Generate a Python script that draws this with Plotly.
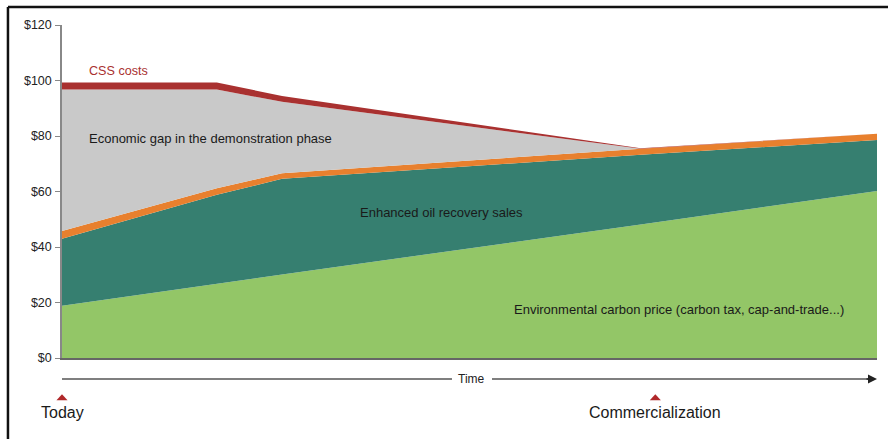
import plotly.graph_objects as go

# Time axis (0 = today, 100 = far future)
time_pts = [0, 19, 27, 71, 100]
# cumulative levels ($)
carbon_price = [18.8, 26.8, 30.1, 48.1, 60.2]
eor_top = [43.0, 58.8, 64.6, 73.2, 78.6]
eor_band_top = [45.8, 61.2, 66.6, 75.4, 80.8]
css_bottom = [96.8, 96.8, 92.3, 75.4, 80.8]
css_top = [99.3, 99.3, 94.4, 75.6, 80.8]

y_ticks = [0, 20, 40, 60, 80, 100, 120]
y_tick_labels = ["$0", "$20", "$40", "$60", "$80", "$100", "$120"]

milestones_t = [0, 72.8]
milestone_labels = ["Today", "Commercialization"]

GREEN = "#93C667"
TEAL = "#367F70"
ORANGE = "#E8802E"
GRAY = "#C9C9C9"
RED = "#A93130"
FONT = "Liberation Sans, Arial, sans-serif"

fig = go.Figure()
fig.add_trace(go.Scatter(x=time_pts, y=carbon_price, mode="lines", line=dict(width=0),
                         fill="tozeroy", fillcolor=GREEN, hoverinfo="skip"))
fig.add_trace(go.Scatter(x=time_pts, y=eor_top, mode="lines", line=dict(width=0),
                         fill="tonexty", fillcolor=TEAL, hoverinfo="skip"))
fig.add_trace(go.Scatter(x=time_pts, y=eor_band_top, mode="lines", line=dict(width=0),
                         fill="tonexty", fillcolor=ORANGE, hoverinfo="skip"))
fig.add_trace(go.Scatter(x=time_pts, y=css_bottom, mode="lines", line=dict(width=0),
                         fill="tonexty", fillcolor=GRAY, hoverinfo="skip"))
fig.add_trace(go.Scatter(x=time_pts, y=css_top, mode="lines", line=dict(width=0),
                         fill="tonexty", fillcolor=RED, hoverinfo="skip"))

line_y = -0.063
shapes = [
    dict(type="line", xref="paper", yref="paper", x0=-0.0663, x1=1.02, y0=1.054, y1=1.054,
         line=dict(color="#111", width=2.5)),
    dict(type="line", xref="paper", yref="paper", x0=-0.0663, x1=-0.0663, y0=1.054, y1=-0.26,
         line=dict(color="#111", width=2.5)),
    dict(type="line", xref="paper", yref="paper", x0=0, x1=0.4785, y0=line_y, y1=line_y,
         line=dict(color="#555", width=1.5)),
    dict(type="line", xref="paper", yref="paper", x0=0.5276, x1=0.995, y0=line_y, y1=line_y,
         line=dict(color="#555", width=1.5)),
]
# milestone triangles (x converted from time units to paper units)
for t in milestones_t:
    px = t / 100.0
    shapes.append(dict(type="path", xref="paper", yref="paper",
                       path=f"M {px - 0.0068} -0.127 L {px + 0.0068} -0.127 L {px} -0.109 Z",
                       fillcolor="#B0282A", line=dict(width=0)))

annotations = [
    dict(x=1.0, y=line_y, xref="paper", yref="paper", ax=-12, ay=0, text="", showarrow=True,
         arrowhead=2, arrowsize=1.2, arrowwidth=1.5, arrowcolor="#222"),
    dict(x=0.503, y=line_y, xref="paper", yref="paper", text="Time", showarrow=False,
         yanchor="middle", font=dict(family=FONT, size=12, color="#222")),
    dict(x=3.1, y=103.5, xref="x", yref="y", text="CSS costs", showarrow=False, xanchor="left",
         yanchor="middle", font=dict(family=FONT, size=12.6, color=RED)),
    dict(x=3.1, y=79, xref="x", yref="y", text="Economic gap in the demonstration phase",
         showarrow=False, xanchor="left", yanchor="middle",
         font=dict(family=FONT, size=13, color="#1a1a1a")),
    dict(x=36.3, y=52.5, xref="x", yref="y", text="Enhanced oil recovery sales",
         showarrow=False, xanchor="left", yanchor="middle",
         font=dict(family=FONT, size=13, color="#1a1a1a")),
    dict(x=55.2, y=17.5, xref="x", yref="y",
         text="Environmental carbon price (carbon tax, cap-and-trade...)",
         showarrow=False, xanchor="left", yanchor="middle",
         font=dict(family=FONT, size=13, color="#1a1a1a")),
]
for t, lab in zip(milestones_t, milestone_labels):
    annotations.append(dict(x=t, y=-0.165, xref="x", yref="paper", text=lab, showarrow=False,
                            yanchor="middle", font=dict(family=FONT, size=16, color="#1a1a1a")))

fig.update_layout(
    width=888, height=439,
    margin=dict(l=62, r=11, t=25, b=81),
    paper_bgcolor="white", plot_bgcolor="white",
    showlegend=False,
    shapes=shapes, annotations=annotations,
    xaxis=dict(range=[0, 100], showgrid=False, zeroline=False, showticklabels=False,
               ticks="", showline=True, linecolor="#666", linewidth=2),
    yaxis=dict(range=[0, 120], tickvals=y_ticks, ticktext=y_tick_labels, showgrid=False,
               zeroline=False, showline=True, linecolor="#888", linewidth=1.5,
               ticks="outside", ticklen=5, tickcolor="#888", ticklabelstandoff=1,
               tickfont=dict(family=FONT, size=12.5, color="#222")),
)

fig.write_html("out.html")
